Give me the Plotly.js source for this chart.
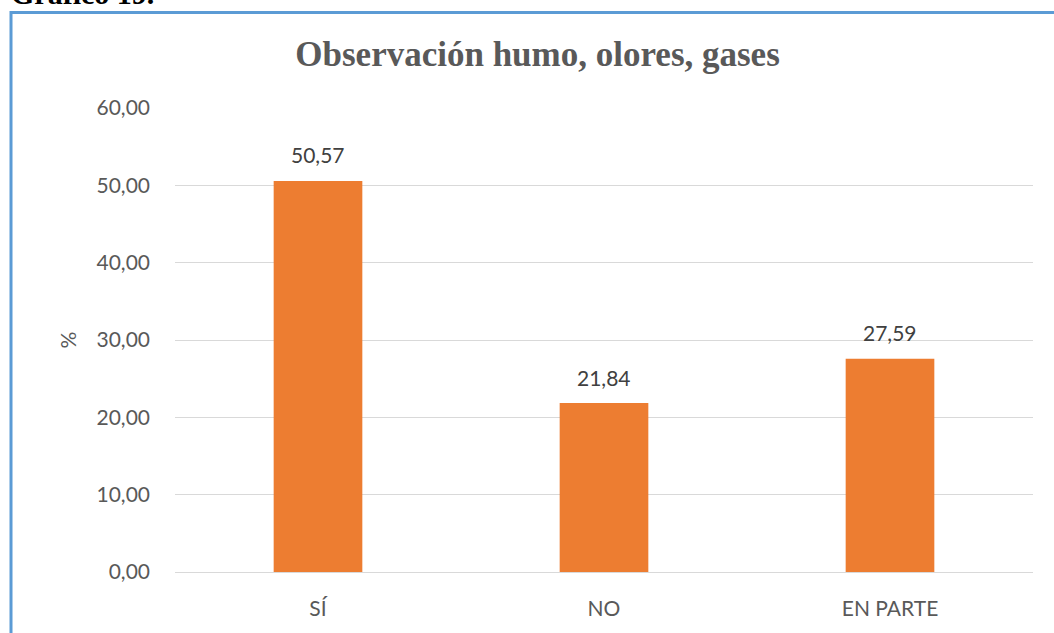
<!DOCTYPE html>
<html>
<head>
<meta charset="utf-8">
<script src="https://cdn.plot.ly/plotly-3.0.1.min.js"></script>
<style>
  html, body { margin: 0; padding: 0; background: #ffffff; }
  #chart { width: 1054px; height: 633px; }
</style>
</head>
<body>
<div id="chart"></div>
<script>
// Respuestas sobre observación de humo, olores y gases (%)
const categorias = ['SÍ', 'NO', 'EN PARTE'];
const porcentajes = [50.57, 21.84, 27.59];
const ticksY = [0, 10, 20, 30, 40, 50, 60];

const fuenteEjes = 'Lato, "Open Sans", sans-serif';
const fuenteSerif = '"Liberation Serif", "Times New Roman", serif';

const trace = {
  type: 'bar',
  x: categorias,
  y: porcentajes,
  marker: { color: '#ED7D31' },
  hoverinfo: 'skip'
};

// Etiquetas de valor sobre cada barra
const etiquetas = categorias.map((c, i) => ({
  x: c,
  y: porcentajes[i],
  xref: 'x', yref: 'y',
  text: porcentajes[i].toFixed(2).replace('.', ','),
  showarrow: false,
  yanchor: 'middle',
  yshift: 26,
  font: { family: fuenteEjes, size: 21, color: '#404040' }
}));

const layout = {
  width: 1054,
  height: 633,
  margin: { l: 175, r: 21, t: 108, b: 61 },
  paper_bgcolor: '#ffffff',
  plot_bgcolor: '#ffffff',
  separators: ',.',
  bargap: 0.69,
  showlegend: false,
  title: {
    text: '<b>Observación humo, olores, gases</b>',
    font: { family: fuenteSerif, size: 35, color: '#595959' },
    x: 0.51, xanchor: 'center',
    y: 1 - 54 / 633, yanchor: 'middle', yref: 'container'
  },
  xaxis: {
    type: 'category',
    showgrid: false,
    showline: true,
    linecolor: '#D9D9D9',
    linewidth: 1,
    ticks: '',
    ticklabelstandoff: 18,
    tickfont: { family: fuenteEjes, size: 21, color: '#595959' }
  },
  yaxis: {
    range: [0, 60],
    tickvals: ticksY,
    tickformat: '.2f',
    showgrid: true,
    gridcolor: '#D9D9D9',
    gridwidth: 1,
    zeroline: false,
    showline: false,
    ticks: '',
    ticklabelstandoff: 24,
    tickfont: { family: fuenteEjes, size: 21, color: '#595959' },
    title: {
      text: '%',
      font: { family: fuenteEjes, size: 21, color: '#595959' },
      standoff: 14
    }
  },
  shapes: [{
    type: 'rect',
    xref: 'paper', yref: 'paper',
    x0: (11 - 175) / 858, x1: 1.2,
    y0: -0.3, y1: 1 + (108 - 12.5) / 464,
    line: { color: '#5B9BD5', width: 3 },
    fillcolor: 'rgba(0,0,0,0)',
    layer: 'below'
  }],
  annotations: etiquetas.concat([{
    text: '<b>Gráfico 19.</b>',
    xref: 'paper', yref: 'paper',
    x: (9 - 175) / 858, xanchor: 'left',
    y: 1 + (108 - 12) / 464, yanchor: 'bottom',
    showarrow: false,
    font: { family: fuenteSerif, size: 30, color: '#000000' }
  }])
};

Plotly.newPlot('chart', [trace], layout, { displayModeBar: false, staticPlot: true });
</script>
</body>
</html>
